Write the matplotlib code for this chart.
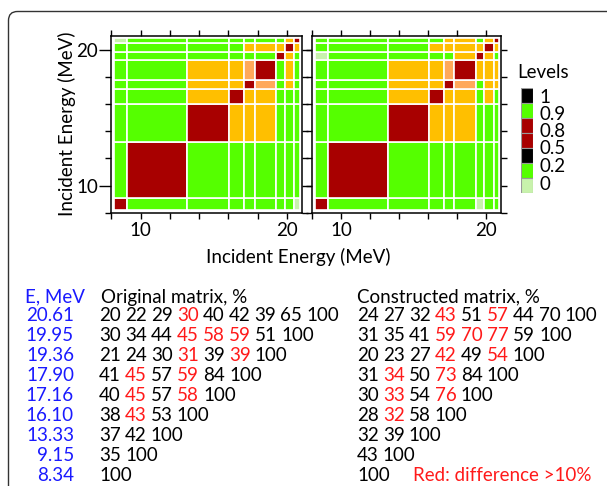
import numpy as np
import matplotlib
matplotlib.use('Agg')
import matplotlib.pyplot as plt
from matplotlib.colors import ListedColormap, BoundaryNorm
from matplotlib.patches import FancyBboxPatch

plt.rcParams['font.family'] = ['Lato', 'DejaVu Sans']

W, H = 607, 486

# group energies (MeV), low to high
energies = ['8.34', '9.15', '13.33', '16.10', '17.16', '17.90', '19.36', '19.95', '20.61']
# cell edges of the groups, same on both axes
edges = [8.17, 9.05, 13.2, 16.03, 17.1, 17.8, 19.28, 19.88, 20.52, 20.88]

# lower triangles in %, row k = group k against groups 0..k
orig_rows = [
    [100],
    [35, 100],
    [37, 42, 100],
    [38, 43, 53, 100],
    [40, 45, 57, 58, 100],
    [41, 45, 57, 59, 84, 100],
    [21, 24, 30, 31, 39, 39, 100],
    [30, 34, 44, 45, 58, 59, 51, 100],
    [20, 22, 29, 30, 40, 42, 39, 65, 100],
]
cons_rows = [
    [100],
    [43, 100],
    [32, 39, 100],
    [28, 32, 58, 100],
    [30, 33, 54, 76, 100],
    [31, 34, 50, 73, 84, 100],
    [20, 23, 27, 42, 49, 54, 100],
    [31, 35, 41, 59, 70, 77, 59, 100],
    [24, 27, 32, 43, 51, 57, 44, 70, 100],
]
# entries printed in red (difference > 10%)
orig_red = [[], [], [], [1], [1, 3], [1, 3], [3, 5], [3, 4, 5], [3]]
cons_red = [[], [], [], [1], [1, 3], [1, 3], [3, 5], [3, 4, 5], [3, 5]]

level_bounds = [0, 20.5, 49.5, 79.5, 99.5, 100.5]
level_colors = ['#c8f2ac', '#55ff00', '#ffbf00', '#ffa95a', '#a80000']

legend_colors = ['black', '#55ff00', '#a80000', '#a80000', 'black', '#55ff00', '#c8f2ac']
legend_labels = ['1', '0.9', '0.8', '0.5', '0.2', '0']


def full(rows):
    n = len(rows)
    m = np.zeros((n, n))
    for i, r in enumerate(rows):
        for j, v in enumerate(r):
            m[i, j] = v
            m[j, i] = v
    return m


cmap = ListedColormap(level_colors)
norm = BoundaryNorm(level_bounds, cmap.N)

fig = plt.figure(figsize=(W / 100, H / 100), dpi=100)


def px_axes(x0, y0, x1, y1):
    return fig.add_axes([x0 / W, 1 - y1 / H, (x1 - x0) / W, (y1 - y0) / H])


panels = [px_axes(110.7, 35.7, 301.7, 212.7), px_axes(311.7, 35.7, 501, 212.7)]
for k, (ax, rows) in enumerate(zip(panels, [orig_rows, cons_rows])):
    ax.pcolormesh(edges, edges, full(rows), cmap=cmap, norm=norm,
                  edgecolors='white', linewidth=1.2, antialiased=True)
    ax.set_xlim(7.95, 21.02)
    ax.set_ylim(8.0, 21.05)
    ax.set_xticks([10, 20])
    ax.set_xticks(np.arange(8, 21, 2), minor=True)
    ax.set_yticks([10, 20])
    ax.set_yticks(np.arange(8, 21, 2), minor=True)
    ax.tick_params(which='both', direction='out', top=True, right=True,
                   width=1, labelsize=13.5, pad=3)
    ax.tick_params(which='major', length=4)
    ax.tick_params(which='minor', length=4)
    if k == 0:
        ax.tick_params(axis='y', which='major', length=9, pad=0)
    else:
        ax.tick_params(axis='y', labelleft=False)
    for s in ax.spines.values():
        s.set_linewidth(1.1)

# overlay in pixel coordinates for the texts and the frame
tax = fig.add_axes([0, 0, 1, 1])
tax.set_xlim(0, W)
tax.set_ylim(H, 0)
tax.axis('off')

tax.add_patch(FancyBboxPatch((8.5, 11.5), 640, 520, boxstyle='round,pad=0,rounding_size=9',
                             fc='none', ec='#333333', lw=1.0, clip_on=False))

fs = 13.5
tax.text(298, 257, 'Incident Energy (MeV)', fontsize=fs, ha='center', va='center')
tax.text(67, 124, 'Incident Energy (MeV)', fontsize=fs, ha='center', va='center', rotation=90)

# legend
leg = px_axes(520.7, 88.3, 533.3, 192.7)
n = len(legend_colors)
leg.barh(np.arange(n), 1, height=1, color=legend_colors, edgecolor='#9a9a9a', linewidth=0.8)
leg.set_ylim(n - 0.5, -0.5)
leg.set_xlim(0, 1)
leg.axis('off')
tax.text(517, 72, 'Levels', fontsize=fs, va='center', ha='left')
for lab, y in zip(legend_labels, [97, 114, 131, 148, 166, 184]):
    tax.text(539, y, lab, fontsize=fs, va='center', ha='left')

blue = '#1a1aff'
red = '#ff1a1a'


def word_row(x, y, words, colors):
    t = tax.text(x, y, words[0], color=colors[0], fontsize=fs, va='center', ha='left')
    for w, c in zip(words[1:], colors[1:]):
        t = tax.annotate(w, xy=(1, 0), xycoords=t, xytext=(3.0, 0),
                         textcoords='offset points', va='bottom', ha='left',
                         color=c, fontsize=fs)


tax.text(25, 297, 'E, MeV', color=blue, fontsize=fs, va='center', ha='left')
tax.text(101, 297, 'Original matrix, %', fontsize=fs, va='center', ha='left')
tax.text(357, 297, 'Constructed matrix, %', fontsize=fs, va='center', ha='left')

for r, i in enumerate(range(len(energies) - 1, -1, -1)):
    y = 315 + 20 * r
    tax.text(74, y, energies[i], color=blue, fontsize=fs, va='center', ha='right')
    for x0, rows, reds in [(99, orig_rows, orig_red), (357, cons_rows, cons_red)]:
        vals = rows[i]
        cols = [red if j in reds[i] else 'black' for j in range(len(vals))]
        word_row(x0, y, [str(v) for v in vals], cols)

tax.text(413, 475, 'Red: difference >10%', color=red, fontsize=fs, va='center', ha='left')

fig.savefig('out.png', dpi=100)
